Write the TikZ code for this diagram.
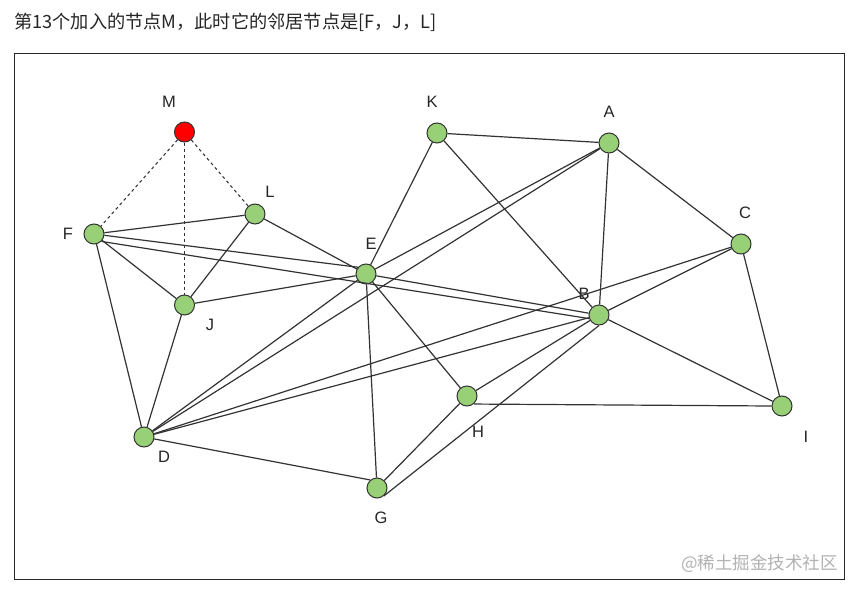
\documentclass[tikz,border=0pt]{standalone}
\usepackage{fontspec}
\setmainfont{Liberation Sans}
\newfontfamily\cjk{Noto Sans CJK SC}
\begin{document}
\begin{tikzpicture}[x=1pt,y=-1pt,
  vert/.style={circle,draw=black!80,fill=gnode,line width=1pt,minimum size=20pt,inner sep=0pt},
  redv/.style={vert,fill=red},
  lab/.style={font=\fontsize{16.5}{16.5}\selectfont,text=black!85},
  edge/.style={draw=black!80,line width=1.2pt},
  dedge/.style={edge,line width=1.05pt,dash pattern=on 3pt off 3pt}]
\definecolor{gnode}{HTML}{97D077}
\useasboundingbox (0,0) rectangle (859,597);
\fill[white] (0,0) rectangle (859,597);
\node[anchor=west,inner sep=0pt,font=\cjk\fontsize{18.2}{18.5}\selectfont,text=black!85] (title) at (14,22) {第13个加入的节点M，此时它的邻居节点是[F，J，L]};
\node[draw=black!85,line width=1.1pt,minimum width=830pt,minimum height=526pt,inner sep=0pt,anchor=north west] (frame) at (13.5,52.5) {};
\node[anchor=east,inner sep=0pt,font=\cjk\fontsize{17.5}{17.5}\selectfont,text=black!30] (wm) at (838,564) {@稀土掘金技术社区};
% vertices
\node[redv] (M) at (184.5,132) {};
\node[vert] (K) at (437,133) {};
\node[vert] (A) at (609,143) {};
\node[vert] (L) at (255,214) {};
\node[vert] (F) at (94,234) {};
\node[vert] (C) at (741,244) {};
\node[vert] (E) at (366,274) {};
\node[vert] (J) at (184.5,305) {};
\node[vert] (B) at (599,315) {};
\node[vert] (H) at (467,396) {};
\node[vert] (I) at (782,406) {};
\node[vert] (D) at (144,437) {};
\node[vert] (G) at (377,488) {};
% labels
\node[lab] (lM) at (169,102) {M};
\node[lab] (lK) at (432,102) {K};
\node[lab] (lA) at (609,112) {A};
\node[lab] (lL) at (270,192) {L};
\node[lab] (lF) at (68,234) {F};
\node[lab] (lC) at (745,213) {C};
\node[lab] (lE) at (371,244) {E};
\node[lab] (lJ) at (210,325) {J};
\node[lab] (lB) at (584,294) {B};
\node[lab] (lH) at (478,432) {H};
\node[lab] (lI) at (806,437) {I};
\node[lab] (lD) at (164,457) {D};
\node[lab] (lG) at (381,518) {G};
% edges
\draw[dedge] (M) -- (F);
\draw[dedge] (M) -- (J);
\draw[dedge] (M) -- (L);
\draw[edge] (F) -- (L);
\draw[edge] (F) -- (E.140);
\draw[edge] (F.-45) -- (B.200);
\draw[edge] (F) -- (J);
\draw[edge] (F) -- (D);
\draw[edge] (L) -- (J);
\draw[edge] (L) -- (E);
\draw[edge] (J) -- (E);
\draw[edge] (J) -- (D);
\draw[edge] (K) -- (A);
\draw[edge] (K) -- (E);
\draw[edge] (K) -- (B);
\draw[edge] (A) -- (E);
\draw[edge] (A) -- (D);
\draw[edge] (A) -- (B);
\draw[edge] (A) -- (C);
\draw[edge] (C) -- (D);
\draw[edge] (C) -- (B);
\draw[edge] (C) -- (I);
\draw[edge] (E) -- (B);
\draw[edge] (E) -- (H);
\draw[edge] (E) -- (G);
\draw[edge] (E) -- (D);
\draw[edge] (B) -- (D);
\draw[edge] (B) -- (H);
\draw[edge] (B.-90) -- (G.-50);
\draw[edge] (B) -- (I);
\draw[edge] (H.-50) -- (I.west);
\draw[edge] (H) -- (G);
\draw[edge] (D) -- (G.130);
\end{tikzpicture}
\end{document}
